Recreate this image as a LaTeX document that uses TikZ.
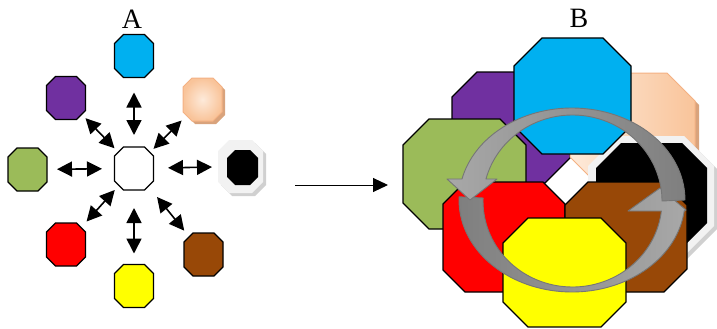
\documentclass[tikz,border=0pt]{standalone}
\usepackage{fontspec}
\setmainfont{Liberation Serif}
\usetikzlibrary{arrows.meta}
\definecolor{cBlue}{HTML}{00B0F0}
\definecolor{cPurple}{HTML}{7030A0}
\definecolor{cGreen}{HTML}{9BBB59}
\definecolor{cRed}{HTML}{FF0000}
\definecolor{cBrown}{HTML}{984807}
\definecolor{cYellow}{HTML}{FFFF00}
\definecolor{cPeachL}{HTML}{FDEADA}
\definecolor{cPeachD}{HTML}{F9C49A}
\definecolor{cPeachB}{HTML}{F4B183}
\definecolor{cPeachS}{HTML}{D9A37C}
\definecolor{cFrame}{HTML}{F2F2F2}
\definecolor{cFrameS}{HTML}{D0D0D0}
\definecolor{cRingL}{HTML}{A8A8A8}
\definecolor{cRingD}{HTML}{7F7F7F}
\definecolor{cRingE}{HTML}{767676}
\newcommand\octp[6]{\path[#6] (#1+#5,#2) -- (#3-#5,#2) -- (#3,#2+#5) -- (#3,#4-#5) -- (#3-#5,#4) -- (#1+#5,#4) -- (#1,#4-#5) -- (#1,#2+#5) -- cycle;}
\newcommand\octo[7]{\node[hold, minimum width={#4-#2}, minimum height={#5-#3}] (#1) at ({(#2+#4)/2},{(#3+#5)/2}) {};\octp{#2}{#3}{#4}{#5}{#6}{#7}}
\tikzset{
  hold/.style={inner sep=0pt, outer sep=0pt, draw=none},
  oct/.style={draw=black, line width=1.1pt, line join=miter},
  dbl/.style={{Triangle[length=15pt,width=15pt]}-{Triangle[length=15pt,width=15pt]}, line width=1.6pt},
  lab/.style={inner sep=0pt, font=\fontsize{28}{30}\selectfont},
  ring/.style={draw=cRingE, line width=0.9pt, line join=round}
}
\begin{document}
\begin{tikzpicture}[x=1pt,y=-1pt]
\useasboundingbox (0,0) rectangle (717,329);
% ---------- A ----------
\node[lab] (labA) at (132,19) {A};
\octo{aBlue}{114.5}{34.5}{153.5}{77.5}{9}{oct, fill=cBlue}
\octo{aPurple}{46.5}{76.5}{85.5}{119.5}{9}{oct, fill=cPurple}
\octp{186}{81}{225}{124}{9}{fill=cPeachS}
\octo{aPeach}{183}{78}{222}{121}{9}{draw=cPeachB, line width=1pt, inner color=cPeachL, outer color=cPeachD}
\octo{aGreen}{8}{148}{47}{191}{9}{oct, fill=cGreen}
\octo{aCen}{114.5}{147}{153.5}{190}{9}{oct, fill=white}
\octp{221}{143}{266}{196}{11}{fill=cFrameS}
\octo{aBlack}{218}{140}{263}{193}{11}{fill=cFrame}
\octp{227}{150}{258}{185}{8}{fill=black}
\octo{aRed}{46.5}{223}{85.5}{266}{9}{oct, fill=cRed}
\octo{aYellow}{114.5}{264.5}{153.5}{307.5}{9}{oct, fill=cYellow}
\octo{aBrown}{184}{233}{223}{276}{9}{oct, fill=cBrown}
\draw[dbl, shorten <=12pt, shorten >=15pt] (aCen) -- (aBlue);
\draw[dbl, shorten <=18pt, shorten >=11pt] (aCen) -- (aYellow);
\draw[dbl, shorten <=12.5pt, shorten >=10pt] (aCen) -- (aGreen);
\draw[dbl, shorten <=14.5pt, shorten >=6pt] (aCen) -- (aBlack);
\draw[dbl] (aCen) -- (aPurple);
\draw[dbl, shorten >=2pt] (aCen) -- (aPeach);
\draw[dbl, shorten >=2pt] (aCen) -- (aRed);
\draw[dbl, shorten <=9pt, shorten >=3pt] (aCen) -- (aBrown);
% ---------- main arrow ----------
\coordinate (m1) at (295,185);
\coordinate (m2) at (388,185);
\draw[line width=1pt, -{Triangle[length=15pt,width=14pt]}] (m1) -- (m2);
% ---------- B ----------
\node[lab] (labB) at (579,18) {B};
\octo{bPurple}{452}{72}{570}{183}{25}{oct, fill=cPurple}
\octp{574}{77}{699}{189}{28}{fill=cPeachS}
\octo{bPeach}{570}{73}{695}{185}{28}{draw=cPeachB, line width=1pt, left color=cPeachL, right color=cPeachD}
\octp{591}{139}{717}{259}{30}{fill=cFrameS}
\octo{bBlack}{588}{136}{714}{256}{30}{fill=cFrame}
\octp{596}{143}{707}{248}{25}{fill=black}
\octo{bGreen}{403}{119}{526}{229}{26}{oct, fill=cGreen}
\octo{bBlue}{514}{38}{631}{154}{28}{oct, fill=cBlue}
\octo{bRed}{443}{182}{565}{292}{22}{oct, fill=cRed}
\octo{bBrown}{565}{182}{687}{292}{23}{oct, fill=cBrown}
\octo{bYellow}{503}{218}{626}{327}{25}{oct, fill=cYellow}
% ring arrows
\path[ring, left color=cRingD, right color=cRingL]
  plot[domain=182:6.9, samples=70] ({572+113*cos(\x)},{200+92*sin(\x)})
  -- (686,210) -- (660,188) -- (628,211)
  -- plot[domain=6.7:182, samples=70] ({572.5+89.5*cos(\x)},{201+86*sin(\x)}) -- cycle;
\path[ring, left color=cRingL, right color=cRingD]
  plot[domain=0:-166.8, samples=70] ({572+113*cos(\x)},{200+92*sin(\x)})
  -- (447,179) -- (470,200) -- (497,179)
  -- plot[domain=-165.2:0, samples=70] ({572.5+89.5*cos(\x)},{201+86*sin(\x)}) -- cycle;
\end{tikzpicture}
\end{document}
